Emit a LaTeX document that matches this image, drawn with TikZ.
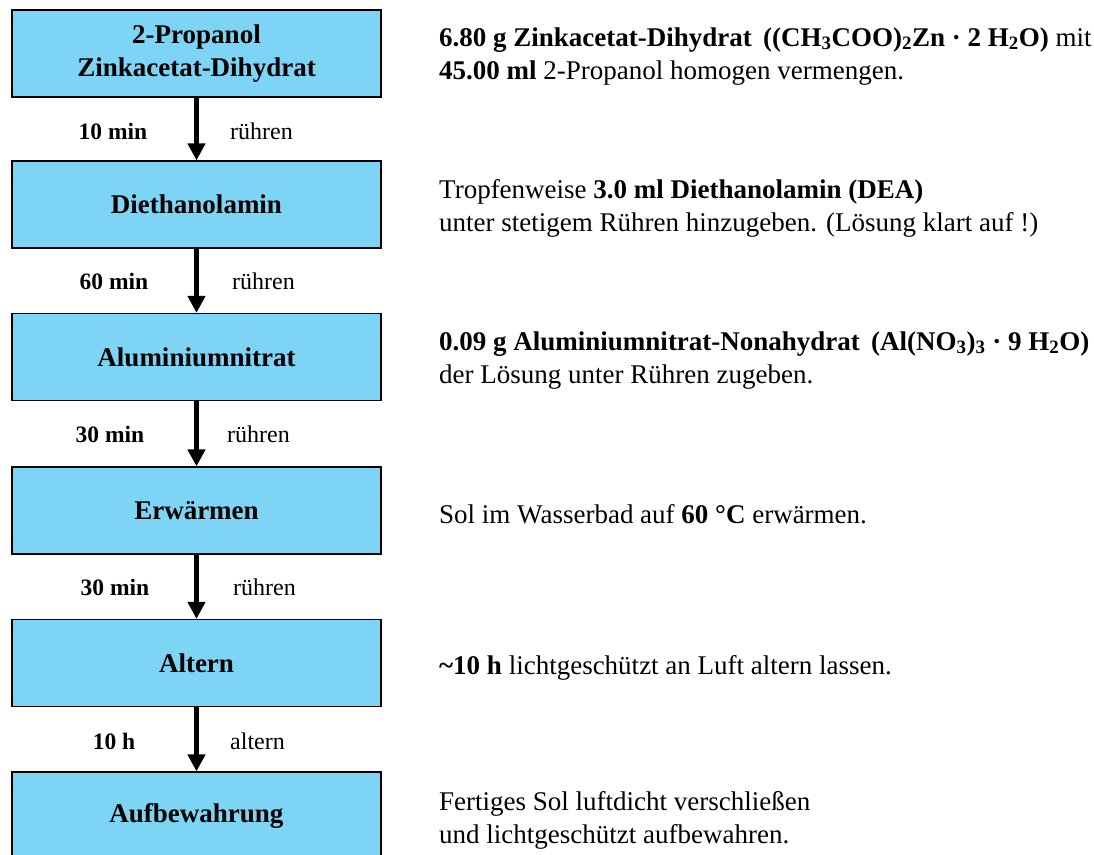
\documentclass[tikz,border=0pt]{standalone}
\usepackage{fontspec}
\setmainfont{Liberation Serif}
\usetikzlibrary{arrows.meta}
\definecolor{boxblau}{RGB}{126,212,245}

\begin{document}
\begin{tikzpicture}[x=1pt, y=-1pt,
    schritt/.style={draw=black, line width=1.2pt, fill=boxblau, minimum width=369pt, minimum height=87pt, inner sep=0pt, align=center, font=\bfseries\fontsize{27}{33}\selectfont},
    pfeil/.style={-{Triangle[length=17pt, width=17pt]}, line width=4.5pt},
    zeit/.style={font=\bfseries\fontsize{23.5}{28}\selectfont},
    tun/.style={anchor=west, inner sep=0pt, font=\fontsize{24}{28}\selectfont},
    info/.style={anchor=base west, align=left, inner sep=0pt, font=\fontsize{27}{33}\selectfont}]
    \useasboundingbox (0,0) rectangle (1094,854);
    \clip (0,0) rectangle (1094,854);
    % Schritte
    \node[schritt] (propanol) at (196.5,53.5) {2-Propanol\\Zinkacetat-Dihydrat};
    \node[schritt] (dea) at (196.5,204.5) {Diethanolamin};
    \node[schritt] (alu) at (196.5,357) {Aluminiumnitrat};
    \node[schritt] (erwaermen) at (196.5,510.5) {Erwärmen};
    \node[schritt] (altern) at (196.5,663) {Altern};
    \node[schritt] (aufbewahrung) at (196.5,815.5) {Aufbewahrung};
    % Pfeile
    \draw[pfeil] (propanol) -- (dea);
    \draw[pfeil] (dea) -- (alu);
    \draw[pfeil] (alu) -- (erwaermen);
    \draw[pfeil] (erwaermen) -- (altern);
    \draw[pfeil] (altern) -- (aufbewahrung);
    % Dauer und Taetigkeit
    \node[zeit] (t1) at (113,131) {10 min};
    \node[tun] (r1) at (230,131) {rühren};
    \node[zeit] (t2) at (114,281) {60 min};
    \node[tun] (r2) at (232,281) {rühren};
    \node[zeit] (t3) at (110,434) {30 min};
    \node[tun] (r3) at (227,434) {rühren};
    \node[zeit] (t4) at (115,587) {30 min};
    \node[tun] (r4) at (233,587) {rühren};
    \node[zeit] (t5) at (114,741) {10 h};
    \node[tun] (r5) at (230,741) {altern};
    % Beschreibungen (base = letzte Zeile)
    \node[info] (b1) at (439,79) {\textbf{6.80 g Zinkacetat-Dihydrat \,((CH\textsubscript{3}COO)\textsubscript{2}Zn · 2 H\textsubscript{2}O)} mit\\\textbf{45.00 ml} 2-Propanol homogen vermengen.};
    \node[info] (b2) at (439,231) {Tropfenweise \textbf{3.0 ml Diethanolamin (DEA)}\\unter stetigem Rühren hinzugeben. (Lösung klart auf !)};
    \node[info] (b3) at (439,383) {\textbf{0.09 g Aluminiumnitrat-Nonahydrat \,(Al(NO\textsubscript{3})\textsubscript{3} · 9 H\textsubscript{2}O)}\\der Lösung unter Rühren zugeben.};
    \node[info] (b4) at (439,523) {Sol im Wasserbad auf \textbf{60 °C} erwärmen.};
    \node[info] (b5) at (439,674) {\textbf{\textasciitilde10 h} lichtgeschützt an Luft altern lassen.};
    \node[info] (b6) at (439,843) {Fertiges Sol luftdicht verschließen\\und lichtgeschützt aufbewahren.};
\end{tikzpicture}
\end{document}
